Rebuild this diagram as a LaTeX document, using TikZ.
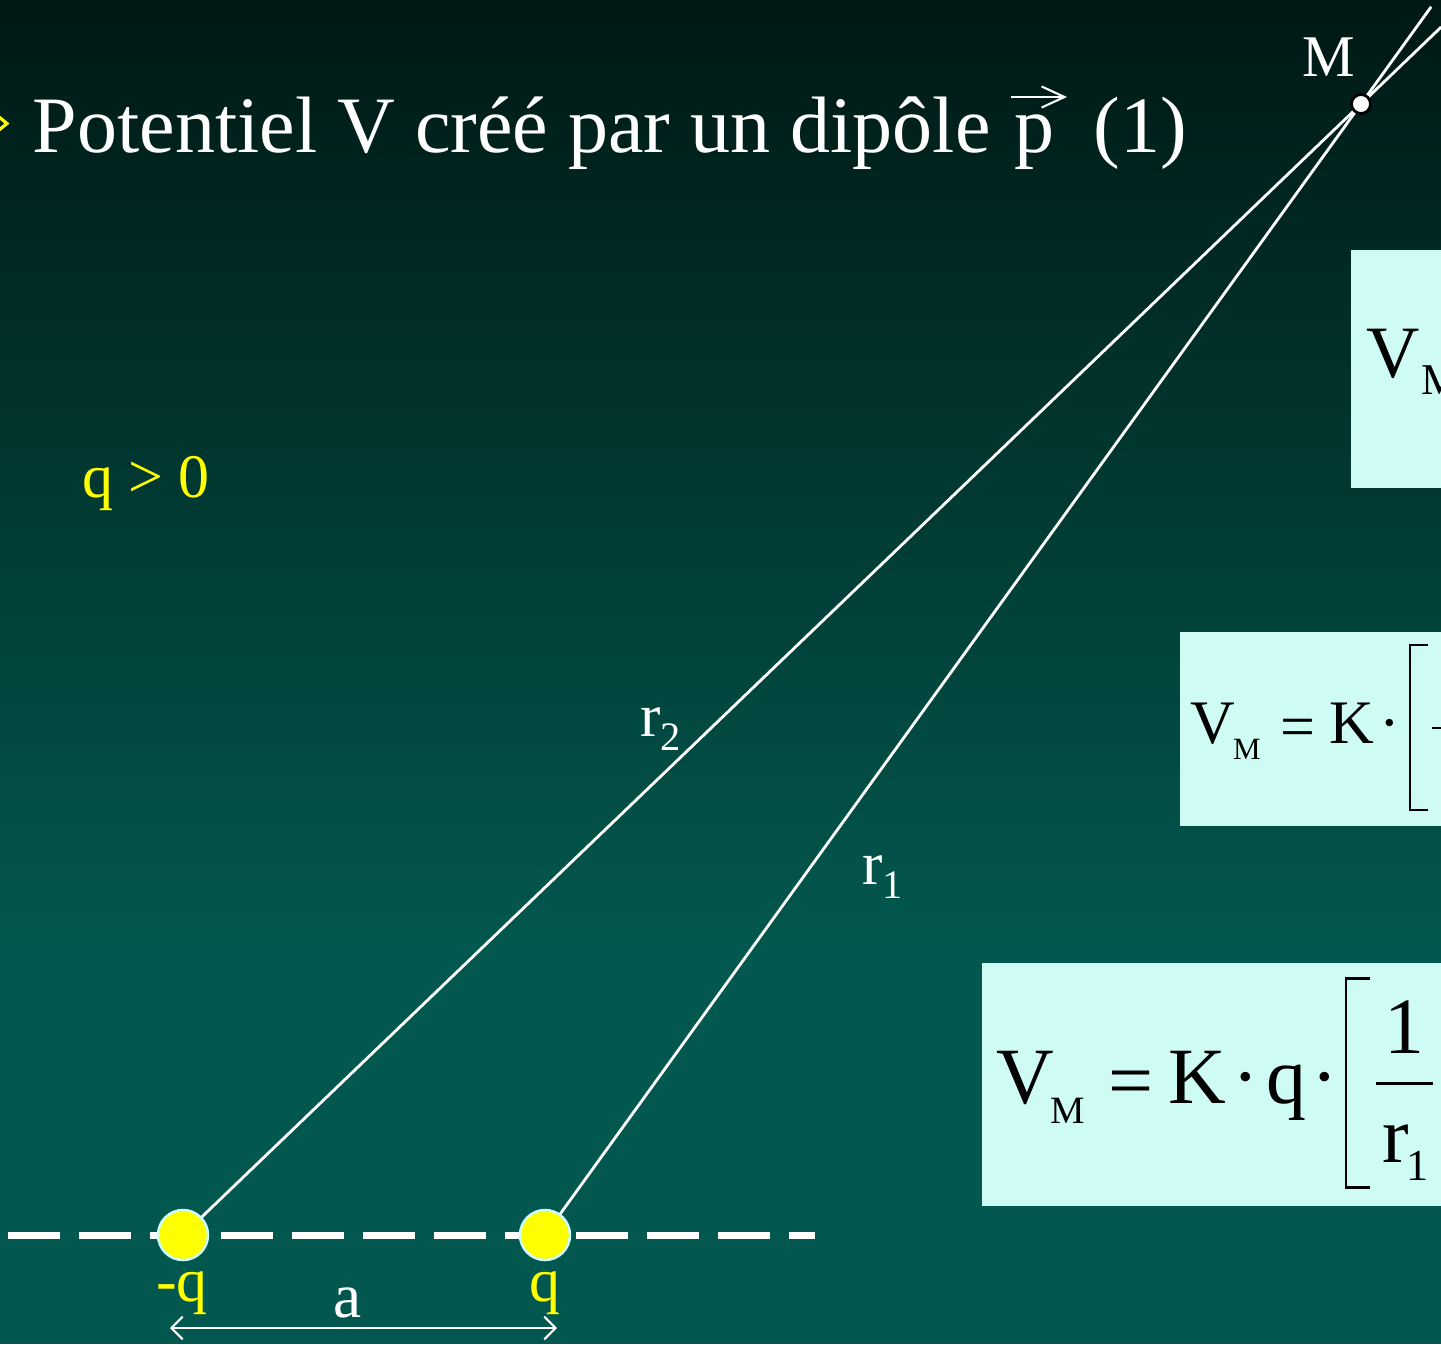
\documentclass[tikz,border=0pt]{standalone}
\usepackage{fontspec}
\setmainfont{Liberation Serif}
\usetikzlibrary{arrows.meta,calc}
\definecolor{bgtop}{RGB}{0,24,20}
\definecolor{bgbot}{RGB}{2,88,78}
\definecolor{boxfill}{RGB}{206,252,244}
\definecolor{qyellow}{RGB}{255,255,0}
\definecolor{qborder}{RGB}{204,255,255}
\newcommand{\fsz}[1]{\fontsize{#1}{#1}\selectfont}
\begin{document}
\begin{tikzpicture}[x=0.01cm,y=-0.01cm,
  txt/.style={inner sep=0pt, outer sep=0pt},
  wtxt/.style={txt, text=white},
  ytxt/.style={txt, text=qyellow},
  ktxt/.style={txt, text=black},
  fbox/.style={fill=boxfill},
  charge/.style={circle, fill=qyellow, draw=qborder, line width=0.7pt, minimum size=0.5cm, inner sep=0pt},
  mpoint/.style={circle, fill=white, draw=black, line width=0.8pt, minimum size=0.19cm, inner sep=0pt},
  ray/.style={white, line width=0.8pt},
  bracket/.style={black, line width=0.85pt}]
\useasboundingbox (0,0) rectangle (1441,1344);
\clip (0,0) rectangle (1441,1344);
% background
\shade[top color=bgtop, bottom color=bgbot] (0,0) rectangle (1441,951);
\fill[bgbot] (0,950) rectangle (1441,1344);

% bullet
\draw[qyellow, line width=0.9pt] (-1,117) -- (7,123.5) -- (-1,130);

% title
\node[wtxt, anchor=base west, font=\fsz{22.75}] (title) at (33,152) {Potentiel V créé par un dipôle};
\node[wtxt, anchor=base, font=\fsz{22.75}] (pvec) at (1034,152) {p};
\node[wtxt, anchor=base, font=\fsz{22.75}] (one) at (1140,152) {(1)};
\coordinate (parl) at (1011,97);
\coordinate (parr) at (1067,97);
\draw[white, line width=0.6pt, -{Straight Barb[length=6.5pt,width=6pt,line width=0.6pt]}] (parl) -- (parr);

% geometry
\coordinate (Q1) at (183,1235);
\coordinate (Q2) at (545,1235);
\coordinate (M) at (1361,104);
\coordinate (endA) at ($(Q1)!1.068!(M)$);
\coordinate (endB) at ($(Q2)!1.086!(M)$);
\coordinate (dl) at (8,1235);
\coordinate (dr) at (815,1235);

\draw[white, line width=2pt, dash pattern=on 14.8pt off 5.4pt] (dl) -- (dr);
\draw[ray] (Q1) -- (endA);
\draw[ray] (Q2) -- (endB);

\node[charge] (qneg) at (Q1) {};
\node[charge] (qpos) at (Q2) {};
\node[mpoint] (Mpt) at (M) {};
\node[wtxt, anchor=base, font=\fsz{16.8}] (Mlab) at (1329,76) {M};

% labels
\node[ytxt, anchor=base west, font=\fsz{17.6}] (qgt) at (82,497) {q > 0};
\node[wtxt, anchor=base west, font=\fsz{17.4}] (r2) at (640,736) {r\raisebox{-4pt}{\fsz{11.5}2}};
\node[wtxt, anchor=base west, font=\fsz{17.4}] (r1) at (862,884) {r\raisebox{-4pt}{\fsz{11.5}1}};
\node[ytxt, anchor=base, font=\fsz{17.6}] (lqneg) at (182,1301) {-q};
\node[ytxt, anchor=base, font=\fsz{17.6}] (lqpos) at (545,1301) {q};
\node[wtxt, anchor=base, font=\fsz{18}] (la) at (348,1317) {a};
\coordinate (al) at (170,1328);
\coordinate (ar) at (557,1328);
\draw[white, line width=0.6pt, {Straight Barb[length=3.2pt,width=6.5pt,line width=0.6pt]}-{Straight Barb[length=3.2pt,width=6.5pt,line width=0.6pt]}] (al) -- (ar);

% box 1
\fill[fbox] (1351,250) rectangle (1460,488);
\node[ktxt, anchor=base west, font=\fsz{21}] (b1V) at (1366,377) {V};
\node[ktxt, anchor=base west, font=\fsz{12.5}] (b1M) at (1421,394) {M};

% box 2
\fill[fbox] (1180,632) rectangle (1460,826);
\node[ktxt, anchor=base west, font=\fsz{17.6}] (b2V) at (1190,743) {V};
\node[ktxt, anchor=base west, font=\fsz{8.8}] (b2M) at (1233,759) {M};
\node[ktxt, anchor=base, font=\fsz{17.6}] (b2eq) at (1298,747) {=};
\node[ktxt, anchor=base west, font=\fsz{17.6}] (b2K) at (1329,743) {K};
\node[ktxt, anchor=base, font=\fsz{17.6}] (b2dot) at (1390,743) {·};
\coordinate (b2bt) at (1428,645);
\coordinate (b2bb) at (1428,810);
\draw[bracket, line width=0.75pt] (b2bt) -| (1410,810) -- (b2bb);
\coordinate (b2fl) at (1432,728);
\coordinate (b2fr) at (1460,728);
\draw[bracket, line width=0.75pt] (b2fl) -- (b2fr);

% box 3
\fill[fbox] (982,963) rectangle (1460,1206);
\node[ktxt, anchor=base west, font=\fsz{22.7}] (b3V) at (996,1103) {V};
\node[ktxt, anchor=base west, font=\fsz{11}] (b3M) at (1050,1123) {M};
\node[ktxt, anchor=base, font=\fsz{22.7}] (b3eq) at (1131,1107) {=};
\node[ktxt, anchor=base west, font=\fsz{22.7}] (b3K) at (1168,1103) {K};
\node[ktxt, anchor=base, font=\fsz{22.7}] (b3dot1) at (1246,1103) {·};
\node[ktxt, anchor=base west, font=\fsz{22.7}] (b3q) at (1266,1103) {q};
\node[ktxt, anchor=base, font=\fsz{22.7}] (b3dot2) at (1325,1103) {·};
\coordinate (b3bt) at (1370,978);
\coordinate (b3bb) at (1370,1187);
\draw[bracket] (b3bt) -| (1346,1187) -- (b3bb);
\node[ktxt, anchor=base, font=\fsz{22.7}] (b3num) at (1404,1053) {1};
\coordinate (b3fl) at (1376,1083);
\coordinate (b3fr) at (1433,1083);
\draw[bracket] (b3fl) -- (b3fr);
\node[ktxt, anchor=base west, font=\fsz{22.7}] (b3r) at (1382,1162) {r};
\node[ktxt, anchor=base west, font=\fsz{12.6}] (b3sub) at (1406,1180) {1};
\end{tikzpicture}
\end{document}
